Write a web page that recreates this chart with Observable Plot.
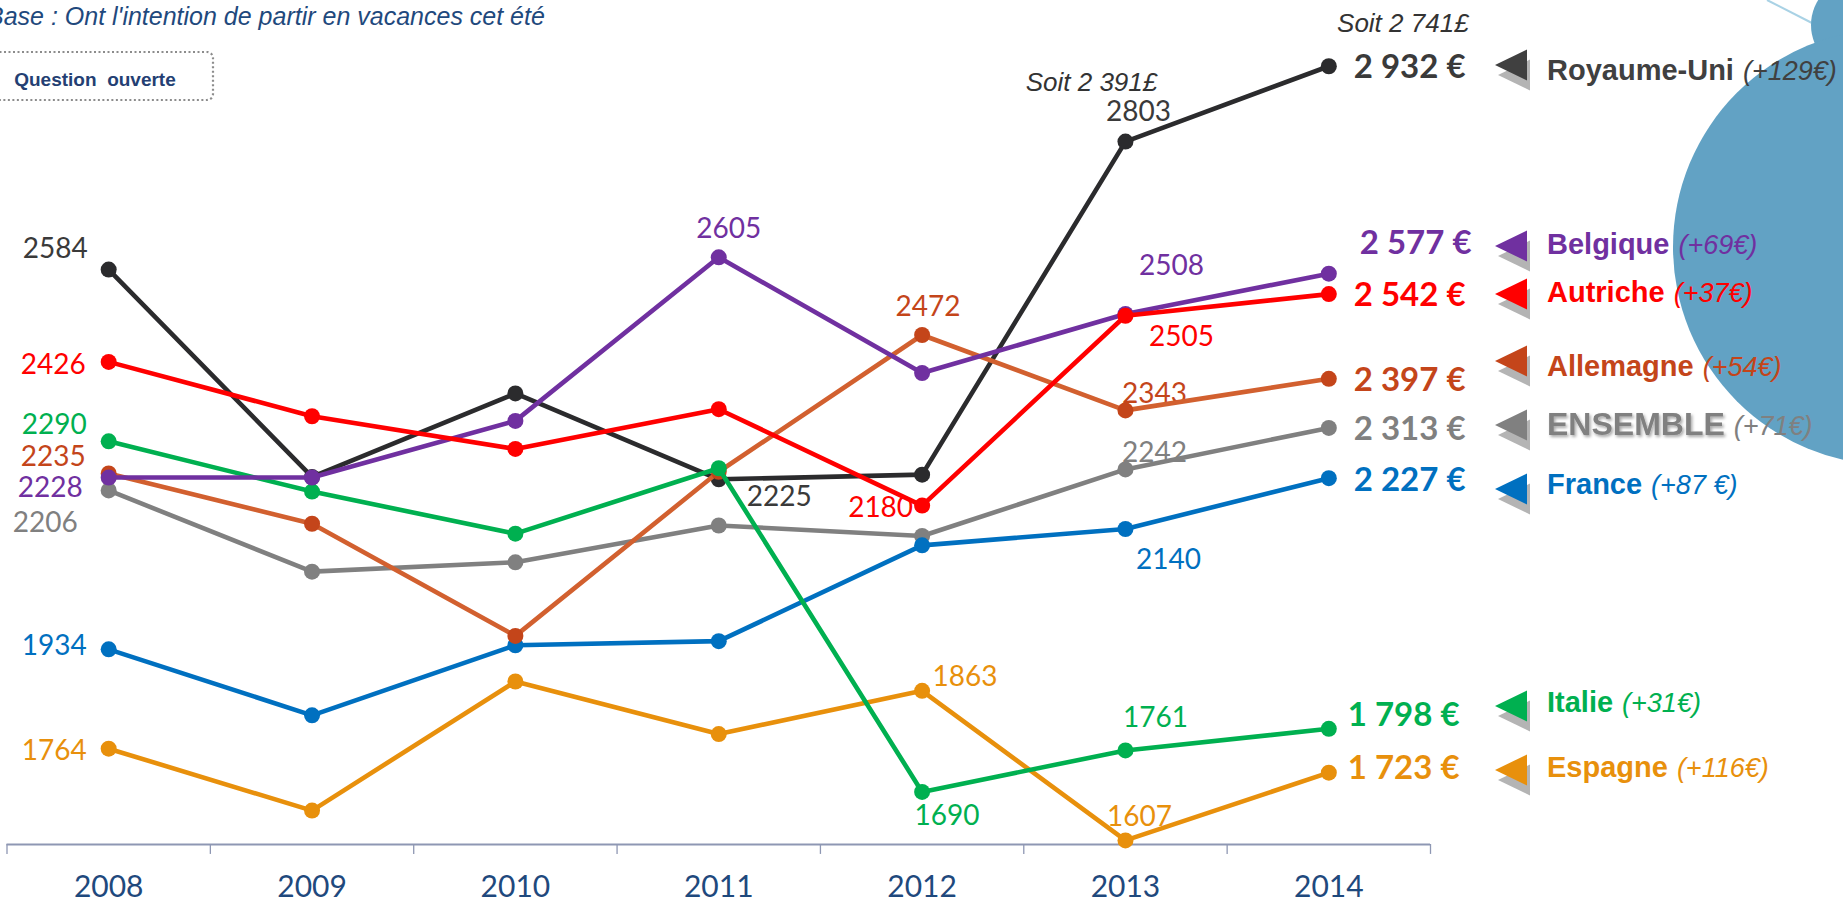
<!DOCTYPE html>
<html><head><meta charset="utf-8">
<script src="https://cdn.jsdelivr.net/npm/d3@7"></script>
<script src="https://cdn.jsdelivr.net/npm/@observablehq/plot@0.6"></script>
<style>
body{margin:0;background:#fff;overflow:hidden}
#chart{position:relative;width:1843px;height:900px}
</style></head><body><div id="chart"></div>
<script>
// ---------- DATA ----------
const years = [2008, 2009, 2010, 2011, 2012, 2013, 2014];
const seriesNames = ["Royaume-Uni", "Belgique", "Autriche", "Allemagne", "Ensemble", "France", "Italie", "Espagne"];
const royaumeUni = [2584, 2229, 2372, 2225, 2233, 2803, 2932];
const belgique   = [2228, 2228, 2325, 2605, 2407, 2508, 2577];
const autriche   = [2426, 2333, 2277, 2345, 2180, 2505, 2542];
const allemagne  = [2235, 2149, 1957, 2238, 2472, 2343, 2397];
const ensemble   = [2206, 2067, 2083, 2146, 2128, 2242, 2313];
const france     = [1934, 1821, 1941, 1948, 2112, 2140, 2227];
const italie     = [2290, 2204, 2132, 2244, 1690, 1761, 1798];
const espagne    = [1764, 1658, 1879, 1789, 1863, 1607, 1723];
const legendNames  = ["Royaume-Uni", "Belgique", "Autriche", "Allemagne", "ENSEMBLE", "France", "Italie", "Espagne"];
const legendDeltas = ["(+129€)", "(+69€)", "(+37€)", "(+54€)", "(+71€)", "(+87 €)", "(+31€)", "(+116€)"];
const poundNotes = [{series: "Royaume-Uni", year: 2013, text: "Soit 2 391£"}, {series: "Royaume-Uni", year: 2014, text: "Soit 2 741£"}];
const subtitleText = "Base : Ont l'intention de partir en vacances cet été";
const boxText = "Question  ouverte";

// ---------- STYLE / LAYOUT ----------
const valuesBySeries = {"Royaume-Uni": royaumeUni, "Belgique": belgique, "Autriche": autriche, "Allemagne": allemagne,
  "Ensemble": ensemble, "France": france, "Italie": italie, "Espagne": espagne};
const lineColor = {"Royaume-Uni": "#2b2b2d", "Belgique": "#7030a0", "Autriche": "#ff0000", "Allemagne": "#d2602f",
  "Ensemble": "#808080", "France": "#0070c0", "Italie": "#00b050", "Espagne": "#e8900c"};
const dotColor = {...lineColor, "Allemagne": "#c4451a"};
const textColor = {...lineColor, "Royaume-Uni": "#3a3a3a", "Allemagne": "#c4451a"};
const legendColor = ["#404040", "#7030a0", "#ff0000", "#c4451a", "#808080", "#0070c0", "#00b050", "#e8900c"];
const drawOrder = ["Ensemble", "France", "Espagne", "Royaume-Uni", "Allemagne", "Italie", "Belgique", "Autriche"];
// [series, year, anchor, dx, dy]
const labelPlacement = [
  ["Royaume-Uni", 2008, "end", -21, -21], ["Royaume-Uni", 2011, "start", 28, 18], ["Royaume-Uni", 2013, "middle", 13, -30],
  ["Belgique", 2008, "end", -26, 10], ["Belgique", 2011, "middle", 10, -28], ["Belgique", 2013, "middle", 46, -48],
  ["Autriche", 2008, "end", -23, 3], ["Autriche", 2012, "end", -9, 2], ["Autriche", 2013, "middle", 56, 21],
  ["Allemagne", 2008, "end", -23, -16], ["Allemagne", 2012, "middle", 6, -28], ["Allemagne", 2013, "middle", 29, -16],
  ["Ensemble", 2008, "end", -31, 33], ["Ensemble", 2013, "middle", 29, -16],
  ["France", 2008, "end", -22, -3], ["France", 2013, "middle", 43, 31],
  ["Italie", 2008, "end", -22, -16], ["Italie", 2012, "middle", 25, 24], ["Italie", 2013, "middle", 30, -32],
  ["Espagne", 2008, "end", -22, 2], ["Espagne", 2012, "middle", 43, -14], ["Espagne", 2013, "middle", 14, -23]
];
const endPlacement = {"Royaume-Uni": [25, 1], "Belgique": [31, -30], "Autriche": [25, 1], "Allemagne": [25, 2],
  "Ensemble": [25, 2], "France": [25, 2], "Italie": [19, -13], "Espagne": [19, -4]};
const notePlacement = [[-34, -59], [74, -43]];
const legendTriY = [65, 246, 294, 361, 425, 489, 706, 770];
const legendTextY = [70, 244, 292, 366, 424, 484, 702, 767];

const euro = v => Math.floor(v / 1000) + " " + String(v % 1000).padStart(3, "0") + " €";
const rowsOf = s => years.map((yr, i) => ({series: s, year: yr, value: valuesBySeries[s][i]}));

// ---------- MARKS ----------
const marks = [];
const axisColor = "#8e97b3";
const boundaries = years.map(y => y - 0.5).concat([years[years.length - 1] + 0.5]);
marks.push(Plot.ruleY([1600], {x1: boundaries[0], x2: boundaries[boundaries.length - 1], stroke: axisColor, strokeWidth: 2}));
marks.push(Plot.ruleX(boundaries, {x: d => d, y1: 1600, y2: 1583, stroke: axisColor, strokeWidth: 1.3}));
marks.push(Plot.text(years, {x: d => d, y: 1600, dy: 43, text: d => String(d), fontSize: 30, fill: "#1f497d",
  fontFamily: "Lato"}));

// value labels (below lines)
for (const [s, yr, anchor, dx, dy] of labelPlacement) {
  const i = years.indexOf(yr);
  marks.push(Plot.text([{year: yr, value: valuesBySeries[s][i]}], {x: "year", y: "value", text: d => String(d.value),
    textAnchor: anchor, dx, dy, fontSize: 28, fill: textColor[s], fontFamily: "Lato"}));
}
for (const s of seriesNames) {
  const [dx, dy] = endPlacement[s];
  const last = years.length - 1;
  marks.push(Plot.text([{year: years[last], value: valuesBySeries[s][last]}], {x: "year", y: "value",
    text: d => euro(d.value), textAnchor: "start", dx, dy, fontSize: 33, fontWeight: "bold", fill: textColor[s],
    fontFamily: "Lato"}));
}
poundNotes.forEach((n, k) => {
  const i = years.indexOf(n.year);
  marks.push(Plot.text([{year: n.year, value: valuesBySeries[n.series][i], text: n.text}], {x: "year", y: "value",
    text: "text", dx: notePlacement[k][0], dy: notePlacement[k][1], fontSize: 26, fontStyle: "italic", fill: "#333",
    fontFamily: "Liberation Sans, Arial"}));
});

// lines + dots
for (const s of drawOrder) {
  const rows = rowsOf(s);
  marks.push(Plot.line(rows, {x: "year", y: "value", stroke: lineColor[s], strokeWidth: 4.6}));
  marks.push(Plot.dot(rows, {x: "year", y: "value", r: 8, fill: dotColor[s], stroke: "none"}));
}

const svg = Plot.plot({
  width: 1843, height: 900, margin: 0,
  x: {domain: [boundaries[0], boundaries[boundaries.length - 1]], range: [6.5, 1430], axis: null},
  y: {domain: [1600, 3000], range: [844, 26], axis: null},
  style: {fontFamily: "Lato", background: "white", overflow: "visible"},
  marks
});
document.getElementById("chart").appendChild(svg);

// ---------- DECORATION / LEGEND ----------
const root = d3.select(svg);
const deco = root.insert("g", ":first-child");
deco.append("line").attr("x1", 1767).attr("y1", 0).attr("x2", 1812).attr("y2", 23).attr("stroke", "#a9d2e5").attr("stroke-width", 2);
deco.append("circle").attr("cx", 1858).attr("cy", 25).attr("r", 47).attr("fill", "#62a2c4");
deco.append("circle").attr("cx", 1891).attr("cy", 247).attr("r", 218).attr("fill", "#62a2c4");

const defs = root.append("defs");
defs.append("filter").attr("id", "tshadow").attr("x", "-10%").attr("y", "-30%").attr("width", "130%").attr("height", "180%")
  .append("feDropShadow").attr("dx", 1.5).attr("dy", 2).attr("stdDeviation", 1.5).attr("flood-color", "#000").attr("flood-opacity", 0.35);

const leg = root.append("g").attr("font-family", "Liberation Sans, Arial, sans-serif").attr("text-anchor", "start");
legendNames.forEach((name, i) => {
  const cy = legendTriY[i];
  const tri = (ox, oy) => `M${1495 + ox},${cy + oy} L${1527 + ox},${cy - 15.5 + oy} L${1527 + ox},${cy + 15.5 + oy} Z`;
  leg.append("path").attr("d", tri(3, 10)).attr("fill", "#b4b4b4");
  leg.append("path").attr("d", tri(0, 0)).attr("fill", legendColor[i]);
  const big = name === "ENSEMBLE";
  const fs = big ? 32 : 29;
  const base = legendTextY[i] + 0.358 * fs;
  const t = leg.append("text").attr("x", 1547).attr("y", base).attr("fill", legendColor[i])
    .attr("text-anchor", "start").attr("font-weight", "bold").attr("font-size", fs).text(name);
  if (big) t.attr("filter", "url(#tshadow)");
  const w = t.node().getComputedTextLength();
  leg.append("text").attr("x", 1547 + w + 9).attr("y", base).attr("fill", legendColor[i])
    .attr("text-anchor", "start").attr("font-style", "italic").attr("font-size", 27).text(legendDeltas[i]);
});

// top-left notes
const notes = root.append("g").attr("font-family", "Liberation Sans, Arial, sans-serif").attr("text-anchor", "start");
notes.append("text").attr("x", -13).attr("y", 25).attr("text-anchor", "start").attr("font-style", "italic")
  .attr("font-size", 25).attr("fill", "#1f497d").text(subtitleText);
notes.append("rect").attr("x", -20).attr("y", 52).attr("width", 233).attr("height", 48).attr("rx", 6)
  .attr("fill", "none").attr("stroke", "#8c8c8c").attr("stroke-width", 2.2).attr("stroke-dasharray", "2 2.5");
notes.append("text").attr("x", 95).attr("y", 86).attr("text-anchor", "middle").attr("font-weight", "bold")
  .attr("font-size", 19).attr("fill", "#243f73").style("white-space", "pre").text(boxText);
</script></body></html>
